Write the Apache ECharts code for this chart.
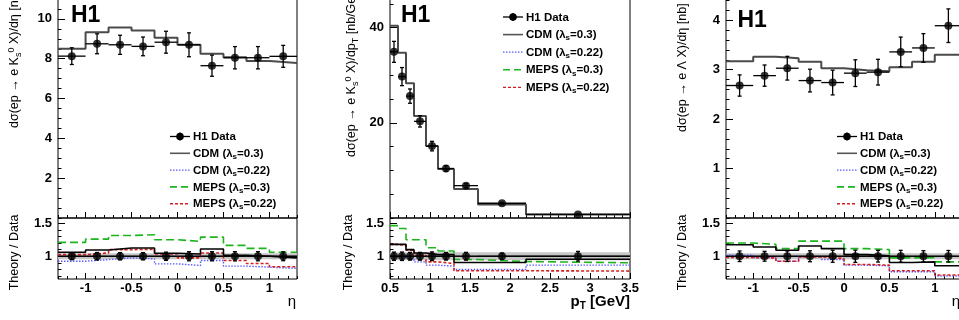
<!DOCTYPE html>
<html>
<head>
<meta charset="utf-8">
<script src="https://cdn.jsdelivr.net/npm/echarts@6.0.0/dist/echarts.min.js"></script>
<style>
html,body{margin:0;padding:0;background:#fff;}
#chart{width:959px;height:320px;}
</style>
</head>
<body>
<div id="chart"></div>
<script>
// ---------------- data ----------------
const etaEdges   = [-1.3, -1.0, -0.75, -0.5, -0.25, 0, 0.25, 0.5, 0.75, 1.0, 1.3];
const etaCenters = [-1.15, -0.875, -0.625, -0.375, -0.125, 0.125, 0.375, 0.625, 0.875, 1.15];
const ptEdges    = [0.5, 0.6, 0.7, 0.8, 0.95, 1.1, 1.3, 1.6, 2.2, 3.5];
const ptCenters  = [0.55, 0.65, 0.75, 0.875, 1.025, 1.2, 1.45, 1.9, 2.85];

// K0s vs eta
const k0EtaData  = [8.13, 8.75, 8.70, 8.62, 8.83, 8.70, 7.65, 8.05, 8.05, 8.12];
const k0EtaErr   = [0.42, 0.50, 0.48, 0.47, 0.55, 0.60, 0.53, 0.56, 0.56, 0.55];
const k0EtaCDM03 = [8.50, 9.33, 9.57, 9.42, 9.05, 8.70, 8.25, 8.07, 7.88, 7.78];
const k0EtaRatioCDM03   = [1.06, 1.095, 1.125, 1.125, 1.045, 1.035, 1.11, 1.015, 1.0, 0.975];
const k0EtaRatioCDM022  = [0.925, 0.95, 0.975, 0.96, 0.885, 0.86, 0.935, 0.85, 0.835, 0.815];
const k0EtaRatioMEPS03  = [1.21, 1.26, 1.315, 1.325, 1.25, 1.225, 1.29, 1.165, 1.12, 1.06];
const k0EtaRatioMEPS022 = [1.025, 1.05, 1.10, 1.105, 1.035, 0.975, 1.05, 0.935, 0.89, 0.84];
const k0EtaBand = 0.045;

// K0s vs pT
const k0PtData  = [34.9, 29.7, 25.6, 20.3, 15.1, 10.4, 6.8, 3.1, 0.75];
const k0PtErr   = [2.2, 1.9, 1.5, 1.2, 1.0, 0.6, 0.4, 0.15, 0.055];
const k0PtCDM03 = [40.4, 34.7, 28.3, 21.4, 15.1, 10.3, 6.1, 2.85, 0.72];
const k0PtRatioCDM03   = [1.18, 1.18, 1.10, 1.05, 1.025, 1.025, 0.905, 0.905, 0.955];
const k0PtRatioCDM022  = [1.0, 0.98, 0.95, 0.915, 0.865, 0.85, 0.80, 0.80, 0.865];
const k0PtRatioMEPS03  = [1.465, 1.42, 1.25, 1.25, 1.13, 1.08, 0.95, 0.92, 0.90];
const k0PtRatioMEPS022 = [1.18, 1.165, 1.09, 1.015, 0.915, 0.89, 0.78, 0.78, 0.775];
const k0PtBand = 0.06;

// Lambda vs eta
const lamEtaData  = [2.68, 2.88, 3.03, 2.78, 2.74, 2.93, 2.95, 3.36, 3.44, 3.89];
const lamEtaErr   = [0.215, 0.215, 0.24, 0.23, 0.25, 0.27, 0.26, 0.30, 0.29, 0.34];
const lamEtaCDM03 = [3.17, 3.26, 3.23, 3.16, 3.03, 2.99, 2.97, 3.05, 3.16, 3.30];
const lamEtaRatioCDM03   = [1.175, 1.14, 1.09, 1.155, 1.115, 1.025, 1.005, 0.905, 0.915, 0.855];
const lamEtaRatioCDM022  = [1.015, 0.98, 0.925, 0.99, 0.95, 0.865, 0.855, 0.765, 0.765, 0.70];
const lamEtaRatioMEPS03  = [1.20, 1.18, 1.115, 1.23, 1.23, 1.115, 1.10, 0.975, 0.98, 0.915];
const lamEtaRatioMEPS022 = [0.98, 0.975, 0.925, 0.99, 0.965, 0.875, 0.865, 0.78, 0.78, 0.715];
const lamEtaBand = 0.045;

// ticks
function range(a, b, step) {
  const n = Math.round((b - a) / step);
  return Array.from({length: n + 1}, (_, i) => +(a + i * step).toFixed(4));
}
const etaMajorTicks = [-1, -0.5, 0, 0.5, 1];
const etaMinorTicks = range(-1.3, 1.3, 0.1);
const ptMajorTicks  = [0.5, 1, 1.5, 2, 2.5, 3, 3.5];
const ptMinorTicks  = range(0.5, 3.5, 0.1);
const k0EtaYTicks = [2, 4, 6, 8, 10];
const k0EtaYMinor = range(0, 11, 0.5);
const k0PtYTicks  = [20, 40];
const k0PtYMinor  = range(0, 45, 5);
const lamYTicks   = [1, 2, 3, 4];
const lamYMinor   = range(0, 4.4, 0.2);
const ratioYTicks = [1, 1.5];
const ratioYMinor = range(0.7, 1.5, 0.1);

// ---------------- layout / style ----------------
const FONT = '"Liberation Sans", Arial, Helvetica, sans-serif';
const COL = {cdm03: '#000000', cdm03main: '#4a4a4a', cdm022: '#5a5aff', meps03: '#1db41d', meps022: '#d42020'};
const MAIN_TOP = -1, MAIN_H = 219, RAT_TOP = 218, RAT_H = 61;
const RAT_MIN = 0.655, RAT_MAX = 1.58;

const grids = [], xAxes = [], yAxes = [], series = [];

function fmt(v) { return String(+(+v).toFixed(2)); }

function addGrid(left, width, top, height) {
  grids.push({left, width, top, height, show: true, borderColor: '#000', borderWidth: 1,
    backgroundColor: 'rgba(0,0,0,0)', containLabel: false, outerBoundsMode: 'none'});
  return grids.length - 1;
}
function axis(gridIndex, dim, min, max, ticks, len, showLabels, margin) {
  return {
    type: 'value', gridIndex, min, max,
    position: dim === 'x' ? 'bottom' : 'left',
    axisLine: {show: false, onZero: false}, splitLine: {show: false},
    axisTick: {show: true, inside: true, length: len, customValues: ticks, lineStyle: {color: '#000', width: 1}},
    axisLabel: {show: showLabels, customValues: ticks, color: '#000', fontFamily: FONT, fontWeight: 'bold',
      fontSize: 13, margin: margin, formatter: fmt}
  };
}
function addAxes(g, xr, xMaj, xMin, xLab, yr, yMaj, yMin) {
  const xi = xAxes.length;
  xAxes.push(axis(g, 'x', xr[0], xr[1], xMaj, 6, xLab, 3));
  xAxes.push(axis(g, 'x', xr[0], xr[1], xMin, 3, false, 3));
  const yi = yAxes.length;
  yAxes.push(axis(g, 'y', yr[0], yr[1], yMaj, 7, true, 6));
  yAxes.push(axis(g, 'y', yr[0], yr[1], yMin, 3.5, false, 6));
  return [xi, yi];
}

function histLine(ax, edges, vals, color, width, dash, z) {
  const data = edges.map((e, i) => [e, vals[Math.min(i, vals.length - 1)]]);
  return {type: 'line', xAxisIndex: ax[0], yAxisIndex: ax[1], data, step: 'end', symbol: 'none',
    showSymbol: false, lineStyle: {color, width, type: dash || 'solid'}, z, silent: true,
    animation: false, clip: true};
}
function errBars(ax, centers, edges, vals, errs, z, cap) {
  return {type: 'custom', xAxisIndex: ax[0], yAxisIndex: ax[1], z, silent: true, animation: false, clip: true,
    data: centers.map((c, i) => [c, vals[i], edges[i], edges[i + 1], vals[i] - errs[i], vals[i] + errs[i]]),
    encode: {x: 0, y: 1},
    renderItem: (params, api) => {
      const c = api.coord([api.value(0), api.value(1)]);
      const l = api.coord([api.value(2), api.value(1)]);
      const r = api.coord([api.value(3), api.value(1)]);
      const lo = api.coord([api.value(0), api.value(4)]);
      const hi = api.coord([api.value(0), api.value(5)]);
      const st = () => ({stroke: '#000', lineWidth: 1.3});
      const ch = [
        {type: 'line', shape: {x1: l[0], y1: c[1], x2: r[0], y2: c[1]}, style: st()},
        {type: 'line', shape: {x1: c[0], y1: lo[1], x2: c[0], y2: hi[1]}, style: st()}
      ];
      if (cap) {
        ch.push({type: 'line', shape: {x1: c[0] - cap, y1: lo[1], x2: c[0] + cap, y2: lo[1]}, style: st()});
        ch.push({type: 'line', shape: {x1: c[0] - cap, y1: hi[1], x2: c[0] + cap, y2: hi[1]}, style: st()});
      }
      return {type: 'group', children: ch};
    }};
}
function points(ax, centers, vals) {
  return {type: 'scatter', xAxisIndex: ax[0], yAxisIndex: ax[1], data: centers.map((c, i) => [c, vals[i]]),
    symbol: 'circle', symbolSize: 8, itemStyle: {color: '#000'}, z: 8, silent: true, animation: false};
}
function band(ax, xr, half) {
  return {type: 'custom', xAxisIndex: ax[0], yAxisIndex: ax[1], z: 1, silent: true, animation: false,
    data: [[xr[0], xr[1], 1 - half, 1 + half, 1]],
    renderItem: (params, api) => {
      const a = api.coord([api.value(0), api.value(3)]);
      const b = api.coord([api.value(1), api.value(2)]);
      const m = api.coord([api.value(0), api.value(4)]);
      return {type: 'group', children: [
        {type: 'rect', shape: {x: a[0], y: a[1], width: b[0] - a[0], height: b[1] - a[1]}, style: {fill: '#c6c6c6'}},
        {type: 'line', shape: {x1: a[0], y1: m[1], x2: b[0], y2: m[1]}, style: {stroke: '#000', lineWidth: 1}}
      ]};
    }};
}

function panel(left, width, xr, xMaj, xMin, yr, yMaj, yMin, edges, centers, d, e, cdm, rC3, rC22, rM3, rM22, bandHalf) {
  const gm = addGrid(left, width, MAIN_TOP, MAIN_H);
  const axm = addAxes(gm, xr, xMaj, xMin, false, yr, yMaj, yMin);
  const gr = addGrid(left, width, RAT_TOP, RAT_H);
  const axr = addAxes(gr, xr, xMaj, xMin, true, [RAT_MIN, RAT_MAX], ratioYTicks, ratioYMinor);
  series.push(histLine(axm, edges, cdm, COL.cdm03main, 2, null, 3));
  series.push(errBars(axm, centers, edges, d, e, 5, 2));
  series.push(points(axm, centers, d));
  series.push(band(axr, xr, bandHalf));
  series.push(histLine(axr, edges, rC22, COL.cdm022, 1.4, [1.5, 1.5], 3));
  series.push(histLine(axr, edges, rM22, COL.meps022, 1.6, [3, 2], 3));
  series.push(histLine(axr, edges, rM3, COL.meps03, 1.6, [8, 4], 3));
  series.push(histLine(axr, edges, rC3, COL.cdm03, 1.6, null, 4));
  const one = d.map(() => 1);
  const rel = e.map((v, i) => v / d[i]);
  series.push(errBars(axr, centers, edges, one, rel, 5, 2));
  series.push(points(axr, centers, one));
}

panel(58, 239, [-1.3, 1.3], etaMajorTicks, etaMinorTicks, [0, 11], k0EtaYTicks, k0EtaYMinor,
  etaEdges, etaCenters, k0EtaData, k0EtaErr, k0EtaCDM03,
  k0EtaRatioCDM03, k0EtaRatioCDM022, k0EtaRatioMEPS03, k0EtaRatioMEPS022, k0EtaBand);
panel(390, 240, [0.5, 3.5], ptMajorTicks, ptMinorTicks, [0, 46], k0PtYTicks, k0PtYMinor,
  ptEdges, ptCenters, k0PtData, k0PtErr, k0PtCDM03,
  k0PtRatioCDM03, k0PtRatioCDM022, k0PtRatioMEPS03, k0PtRatioMEPS022, k0PtBand);
panel(726, 236, [-1.3, 1.3], etaMajorTicks, etaMinorTicks, [0, 4.43], lamYTicks, lamYMinor,
  etaEdges, etaCenters, lamEtaData, lamEtaErr, lamEtaCDM03,
  lamEtaRatioCDM03, lamEtaRatioCDM022, lamEtaRatioMEPS03, lamEtaRatioMEPS022, lamEtaBand);

// ---------------- texts / legends ----------------
const graphic = [];
const titleRich = {
  n: {fontSize: 12.5, fontFamily: FONT, fill: '#000', lineHeight: 16},
  sub: {fontSize: 9, fontFamily: FONT, fill: '#000', verticalAlign: 'bottom', lineHeight: 9},
  sup: {fontSize: 9, fontFamily: FONT, fill: '#000', verticalAlign: 'top', lineHeight: 9}
};
function vText(x, y, text, align) {
  graphic.push({type: 'text', x, y, rotation: Math.PI / 2, silent: true,
    style: {text, rich: titleRich, fontSize: 12.5, fontFamily: FONT, fill: '#000',
      align: align, textAlign: align, verticalAlign: 'middle', textVerticalAlign: 'middle'}});
}
const yTitles = [
  '{n|dσ(ep → e K}{sub|s}{sup|0}{n| X)/dη [nb]}',
  '{n|dσ(ep → e K}{sub|s}{sup|0}{n| X)/dp}{sub|T}{n| [nb/GeV]}',
  '{n|dσ(ep → e Λ X)/dη [nb]}'
];
vText(15, 128, yTitles[0], 'left');
vText(352, 157, yTitles[1], 'left');
vText(683, 132, yTitles[2], 'left');
const ratioTitle = '{n|Theory / Data}';
vText(15, 252.5, ratioTitle, 'center');
vText(349, 252.5, ratioTitle, 'center');
vText(683, 252.5, ratioTitle, 'center');

function plainText(x, y, text, rich, align) {
  graphic.push({type: 'text', x, y, silent: true,
    style: {text, rich, fontFamily: FONT, fill: '#000', align, textAlign: align,
      verticalAlign: 'middle', textVerticalAlign: 'middle'}});
}
const logoRich = {h: {fontSize: 23, fontWeight: 'bold', fontFamily: FONT, fill: '#000'}};
plainText(71, 16, '{h|H1}', logoRich, 'left');
plainText(401, 15.5, '{h|H1}', logoRich, 'left');
plainText(737.5, 20.5, '{h|H1}', logoRich, 'left');

const axRich = {
  e: {fontSize: 15, fontFamily: FONT, fill: '#000'},
  b: {fontSize: 15, fontWeight: 'bold', fontFamily: FONT, fill: '#000', lineHeight: 18},
  s: {fontSize: 10, fontWeight: 'bold', fontFamily: FONT, fill: '#000', verticalAlign: 'bottom', lineHeight: 10}
};
plainText(292, 302, '{e|η}', axRich, 'center');
plainText(956, 302, '{e|η}', axRich, 'center');
plainText(630, 302, '{b|p}{s|T}{b| [GeV]}', axRich, 'right');

const legRich = {
  b: {fontSize: 11.5, fontWeight: 'bold', fontFamily: FONT, fill: '#000', lineHeight: 14},
  s: {fontSize: 8, fontWeight: 'bold', fontFamily: FONT, fill: '#000', verticalAlign: 'bottom', lineHeight: 8}
};
const legendItems = [
  {kind: 'data', label: '{b|H1 Data}'},
  {kind: 'line', color: '#555555', dash: null, w: 1.6, label: '{b|CDM (λ}{s|s}{b|=0.3)}'},
  {kind: 'line', color: COL.cdm022, dash: [1.5, 1.5], w: 1.2, label: '{b|CDM (λ}{s|s}{b|=0.22)}'},
  {kind: 'line', color: COL.meps03, dash: [7, 4], w: 1.6, label: '{b|MEPS (λ}{s|s}{b|=0.3)}'},
  {kind: 'line', color: COL.meps022, dash: [3, 2], w: 1.4, label: '{b|MEPS (λ}{s|s}{b|=0.22)}'}
];
function legend(x0, y0, dy) {
  legendItems.forEach((it, i) => {
    const y = y0 + i * dy;
    if (it.kind === 'data') {
      graphic.push({type: 'line', silent: true, shape: {x1: x0, y1: y, x2: x0 + 20, y2: y}, style: {stroke: '#000', lineWidth: 1.3}});
      graphic.push({type: 'line', silent: true, shape: {x1: x0 + 10, y1: y - 4, x2: x0 + 10, y2: y + 4}, style: {stroke: '#000', lineWidth: 1.3}});
      graphic.push({type: 'circle', silent: true, shape: {cx: x0 + 10, cy: y, r: 3.8}, style: {fill: '#000'}});
    } else {
      graphic.push({type: 'line', silent: true, shape: {x1: x0, y1: y, x2: x0 + 20, y2: y},
        style: {stroke: it.color, lineWidth: it.w, lineDash: it.dash || null}});
    }
    plainText(x0 + 23, y + 0.5, it.label, legRich, 'left');
  });
}
legend(170, 136.5, 16.8);
legend(503, 17, 17.6);
legend(837, 136.5, 16.8);

const chart = echarts.init(document.getElementById('chart'), null, {renderer: 'canvas'});
chart.setOption({
  animation: false,
  backgroundColor: '#ffffff',
  textStyle: {fontFamily: FONT},
  grid: grids,
  xAxis: xAxes,
  yAxis: yAxes,
  series: series,
  graphic: {elements: graphic}
});
</script>
</body>
</html>
